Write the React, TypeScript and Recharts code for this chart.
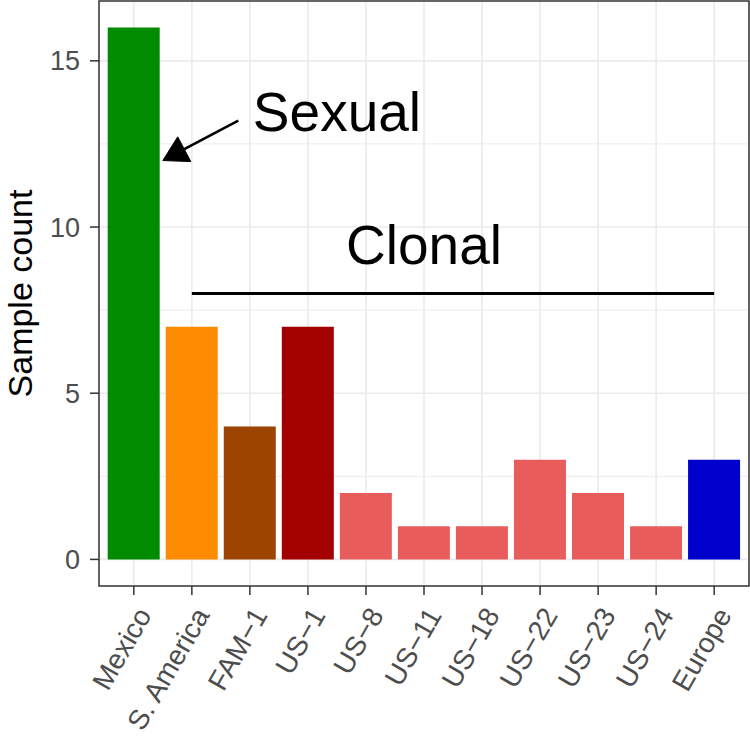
import React from "react";
import {
  BarChart,
  Bar,
  Cell,
  XAxis,
  YAxis,
  CartesianGrid,
  ReferenceLine,
  ReferenceArea,
  ReferenceDot,
} from "recharts";

const categories = [
  "Mexico",
  "S. America",
  "FAM\u22121",
  "US\u22121",
  "US\u22128",
  "US\u221211",
  "US\u221218",
  "US\u221222",
  "US\u221223",
  "US\u221224",
  "Europe",
];
const counts = [16, 7, 4, 7, 2, 1, 1, 3, 2, 1, 3];
const barColors = [
  "#008B00",
  "#FF8C00",
  "#9C4400",
  "#A30000",
  "#E95C5C",
  "#E95C5C",
  "#E95C5C",
  "#E95C5C",
  "#E95C5C",
  "#E95C5C",
  "#0000CD",
];
const yTicks = [0, 5, 10, 15];
const yMinor = [2.5, 7.5, 12.5];
const yDomain = [-0.8, 16.8];
const xNumDomain = [-0.6, 10.6];

// annotations (x in category index units, y in counts)
const clonalLine = [
  { x: 1, y: 8 },
  { x: 10, y: 8 },
];
const sexualArrow = [
  { x: 1.8, y: 13.2 },
  { x: 0.5, y: 12 },
];
const sexualLabel = { x: 3.5, y: 13.5, text: "Sexual" };
const clonalLabel = { x: 5, y: 9.5, text: "Clonal" };

const data = categories.map((c, i) => ({ name: c, idx: i, count: counts[i] }));

const FONT = "'Liberation Sans', Arial, Helvetica, sans-serif";

const XTick = (props: any) => {
  const { x, y, payload } = props;
  return (
    <g transform={`translate(${x + 1},${y + 8})`}>
      <text
        transform="rotate(-60)"
        textAnchor="end"
        dy="0.72em"
        fill="#4D4D4D"
        fontSize={28}
        fontFamily={FONT}
      >
        {payload.value}
      </text>
    </g>
  );
};

const ArrowShape = (props: any) => {
  const { x1, y1, x2, y2 } = props;
  if ([x1, y1, x2, y2].some((v) => v === undefined || isNaN(v))) return null;
  const ang = Math.atan2(y2 - y1, x2 - x1);
  const L = 28;
  const a = Math.PI / 6;
  const p1x = x2 - L * Math.cos(ang - a);
  const p1y = y2 - L * Math.sin(ang - a);
  const p2x = x2 - L * Math.cos(ang + a);
  const p2y = y2 - L * Math.sin(ang + a);
  const bx = x2 - L * Math.cos(a) * Math.cos(ang);
  const by = y2 - L * Math.cos(a) * Math.sin(ang);
  return (
    <g>
      <line x1={x1} y1={y1} x2={bx} y2={by} stroke="#000" strokeWidth={2.6} />
      <polygon points={`${x2},${y2} ${p1x},${p1y} ${p2x},${p2y}`} fill="#000" stroke="#000" strokeWidth={1} />
    </g>
  );
};

const makeTextShape = (text: string) => (props: any) => {
  const { cx, cy } = props;
  return (
    <text
      x={cx}
      y={cy + 20}
      textAnchor="middle"
      fontSize={55}
      fontFamily={FONT}
      fill="#000"
    >
      {text}
    </text>
  );
};

const YTitle = (props: any) => {
  const vb = props.viewBox || {};
  const cy = (vb.y ?? 0) + (vb.height ?? 0) / 2;
  const x = 32;
  return (
    <text
      x={x}
      y={cy}
      transform={`rotate(-90, ${x}, ${cy})`}
      textAnchor="middle"
      fontSize={34}
      fontFamily={FONT}
      fill="#000"
    >
      Sample count
    </text>
  );
};

export default function App() {
  return (
    <div style={{ width: 750, height: 746, background: "#fff" }}>
      <style>{"body{margin:0}"}</style>
      <BarChart
        width={750}
        height={746}
        data={data}
        margin={{ top: 1, right: 1, bottom: 0, left: 0 }}
        barCategoryGap="5%"
        style={{ fontFamily: FONT }}
      >
        <CartesianGrid
          horizontal
          vertical={false}
          horizontalValues={yMinor}
          stroke="#EBEBEB"
          strokeWidth={1}
        />
        <CartesianGrid
          horizontal
          vertical
          horizontalValues={yTicks}
          stroke="#EBEBEB"
          strokeWidth={1.6}
        />
        <XAxis
          dataKey="name"
          type="category"
          interval={0}
          height={160}
          padding={{ left: 5.8, right: 5.8 }}
          axisLine={false}
          tickLine={{ stroke: "#333333", strokeWidth: 1.5 }}
          tickSize={9}
          tick={<XTick />}
        />
        <XAxis
          xAxisId="num"
          dataKey="idx"
          type="number"
          domain={xNumDomain}
          allowDataOverflow
          hide
        />
        <YAxis
          type="number"
          domain={yDomain}
          ticks={yTicks}
          allowDataOverflow
          width={99}
          axisLine={false}
          tickLine={{ stroke: "#333333", strokeWidth: 1.5 }}
          tickSize={9}
          tickMargin={10}
          tick={{ fill: "#4D4D4D", fontSize: 27, fontFamily: FONT }}
          label={<YTitle />}
        />
        <Bar dataKey="count" isAnimationActive={false}>
          {data.map((d, i) => (
            <Cell key={d.name} fill={barColors[i]} />
          ))}
        </Bar>
        <ReferenceLine
          xAxisId="num"
          segment={clonalLine}
          stroke="#000"
          strokeWidth={3}
          ifOverflow="visible"
        />
        <ReferenceLine
          xAxisId="num"
          segment={sexualArrow}
          shape={<ArrowShape />}
          ifOverflow="visible"
        />
        <ReferenceDot
          xAxisId="num"
          x={sexualLabel.x}
          y={sexualLabel.y}
          r={0}
          shape={makeTextShape(sexualLabel.text)}
          ifOverflow="visible"
        />
        <ReferenceDot
          xAxisId="num"
          x={clonalLabel.x}
          y={clonalLabel.y}
          r={0}
          shape={makeTextShape(clonalLabel.text)}
          ifOverflow="visible"
        />
        <ReferenceArea
          xAxisId="num"
          x1={xNumDomain[0]}
          x2={xNumDomain[1]}
          y1={yDomain[0]}
          y2={yDomain[1]}
          fill="none"
          fillOpacity={0}
          stroke="#333333"
          strokeWidth={1.5}
          ifOverflow="visible"
        />
      </BarChart>
    </div>
  );
}
